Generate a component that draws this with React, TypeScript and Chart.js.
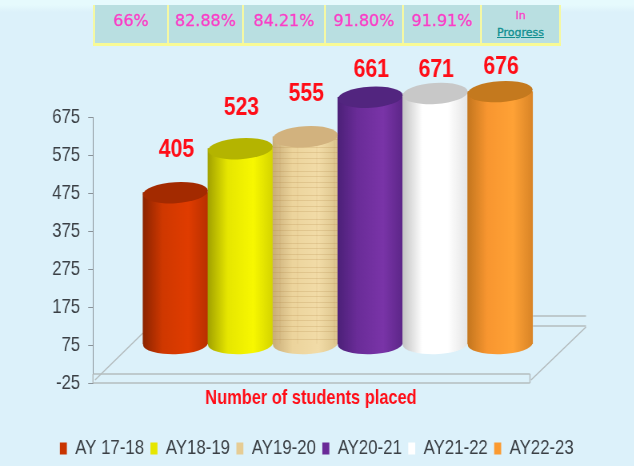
import React, { useEffect, useRef } from "react";
import { Chart, registerables } from "chart.js";

Chart.register(...registerables);

const categories = ["AY 17-18", "AY18-19", "AY19-20", "AY20-21", "AY21-22", "AY22-23"];
const placed = [405, 523, 555, 661, 671, 676];
const rates = ["66%", "82.88%", "84.21%", "91.80%", "91.91%"];
const rateWidths = [74, 75, 82, 78, 78, 79];
const legendColors = ["#c93400", "#e6e600", "#e6cc94", "#6a2a98", "#ffffff", "#fb9a30"];
const topColors = ["#a32a00", "#b4b400", "#d2b27e", "#52257f", "#c8c8c8", "#c4791e"];
const bodyStops = [
  ["#8c2400", "#cf3800", "#e03c00", "#b83000"],
  ["#a2a200", "#e6e600", "#f8f800", "#d4d400"],
  ["#c9ad78", "#ecd49c", "#f2dca8", "#dcc48c"],
  ["#4c2078", "#6a2c98", "#7a34a8", "#5c2688"],
  ["#c4c4c4", "#ffffff", "#ffffff", "#e4e4e4"],
  ["#c4761e", "#f89630", "#ffa236", "#d98426"],
];
const labelLift = [43, 41, 43, 28, 24, 25];
const WOOD = 2;
const SX = 0.8;
const X = (n: number) => n / SX;
const SHIFT_X = X(50);
const FONT = '"Liberation Sans", sans-serif';

function woodPattern(ctx: CanvasRenderingContext2D) {
  const c = document.createElement("canvas");
  c.width = 46;
  c.height = 24;
  const g = c.getContext("2d")!;
  g.strokeStyle = "rgba(170,125,60,0.2)";
  for (const y of [3, 8, 14, 19]) {
    g.beginPath();
    g.moveTo(0, y + 0.5);
    g.lineTo(46, y + 0.5);
    g.stroke();
  }
  g.strokeStyle = "rgba(170,125,60,0.12)";
  for (const x of [11, 33]) {
    g.beginPath();
    g.moveTo(x + 0.5, 0);
    g.lineTo(x + 0.5, 24);
    g.stroke();
  }
  return ctx.createPattern(c, "repeat")!;
}

function bodyGradient(ctx: CanvasRenderingContext2D, x: number, w: number, i: number) {
  const g = ctx.createLinearGradient(x - w / 2, 0, x + w / 2, 0);
  const s = bodyStops[i];
  g.addColorStop(0, s[0]);
  g.addColorStop(0.3, s[1]);
  g.addColorStop(0.7, s[2]);
  g.addColorStop(1, s[3]);
  return g;
}

const cylinderPlugin = {
  id: "cylinder",
  beforeDatasetsDraw(chart: any) {
    const ctx = chart.ctx as CanvasRenderingContext2D;
    ctx.save();
    ctx.strokeStyle = "#b4bcbe";
    ctx.lineWidth = 1.5;
    const lines = [
      [93, 374, 530, 374], [93, 383, 530, 383], [530, 374, 530, 383], [93, 374, 93, 383],
      [95, 380, 143, 333], [531, 380, 586, 327], [533, 326, 586, 326], [533, 316, 586, 316],
    ];
    for (const [a, b, c, d] of lines) {
      ctx.beginPath();
      ctx.moveTo(X(a), b);
      ctx.lineTo(X(c), d);
      ctx.stroke();
    }
    ctx.restore();
    ctx.save();
    ctx.translate(SHIFT_X, 0);
    chart.getDatasetMeta(0).data.forEach((bar: any, i: number) => {
      const { x, base, width } = bar.getProps(["x", "base", "width"], true);
      ctx.fillStyle = bodyGradient(ctx, x, width, i);
      ctx.beginPath();
      ctx.ellipse(x, base, width / 2, 10.5, -0.025, 0, Math.PI * 2);
      ctx.fill();
    });
  },
  afterDatasetsDraw(chart: any) {
    const ctx = chart.ctx as CanvasRenderingContext2D;
    chart.getDatasetMeta(0).data.forEach((bar: any, i: number) => {
      const { x, y, base, width } = bar.getProps(["x", "y", "base", "width"], true);
      if (i === WOOD) {
        ctx.fillStyle = woodPattern(ctx);
        ctx.fillRect(x - width / 2, y, width, base - y);
      }
      ctx.fillStyle = topColors[i];
      ctx.beginPath();
      ctx.ellipse(x, y, width / 2, 10.5, -0.05, 0, Math.PI * 2);
      ctx.fill();
      ctx.fillStyle = "#ff0d17";
      ctx.font = `bold 26.5px ${FONT}`;
      ctx.textAlign = "center";
      ctx.textBaseline = "middle";
      ctx.fillText(String(placed[i]), x + X(1), y - labelLift[i]);
    });
    ctx.restore();
    ctx.save();
    ctx.fillStyle = "#ff0d17";
    ctx.font = `bold 20.5px ${FONT}`;
    ctx.textAlign = "center";
    ctx.textBaseline = "middle";
    ctx.fillText("Number of students placed", X(311), 398);
    ctx.restore();
  },
};

export default function App() {
  const ref = useRef<HTMLCanvasElement>(null);
  useEffect(() => {
    const chart = new Chart(ref.current!, {
      type: "bar",
      data: {
        labels: categories,
        datasets: [
          {
            label: "Number of students placed",
            data: placed,
            yAxisID: "yBars",
            clip: false,
            categoryPercentage: 1,
            barPercentage: 1,
            borderWidth: 0,
            backgroundColor: (c: any) => {
              const x = c.chart.scales.x;
              const w = x.width / categories.length;
              return bodyGradient(c.chart.ctx, x.getPixelForValue(c.dataIndex), w, c.dataIndex);
            },
          },
        ],
      },
      options: {
        responsive: false,
        animation: false,
        layout: { padding: { top: 117, bottom: -3 } },
        plugins: {
          tooltip: { enabled: false },
          title: { display: false },
          legend: {
            position: "bottom",
            labels: {
              boxWidth: 8.75,
              boxHeight: 12,
              padding: 8,
              color: "#3a3f44",
              font: { family: FONT, size: 21, lineHeight: 1 },
              generateLabels: () =>
                categories.map((text, i) => ({
                  text,
                  fillStyle: legendColors[i],
                  strokeStyle: legendColors[i],
                  fontColor: "#3a3f44",
                  lineWidth: 0,
                  hidden: false,
                  datasetIndex: 0,
                })),
            },
          },
        },
        scales: {
          x: {
            grid: { display: false },
            border: { display: false },
            ticks: { display: false },
            afterFit: (s: any) => {
              s.height = 46.5;
            },
          },
          y: {
            position: "left",
            min: -25,
            max: 675,
            ticks: { stepSize: 100, color: "#3a3f44", padding: 10, font: { family: FONT, size: 21 } },
            grid: { drawOnChartArea: false, color: "#8a9298", tickLength: 6 },
            border: { color: "#8a9298" },
            afterFit: (s: any) => {
              s.width = X(93);
            },
          },
          yBars: {
            position: "right",
            min: -106.7,
            max: 608,
            grid: { display: false },
            border: { display: false },
            ticks: { display: false },
            afterFit: (s: any) => {
              s.width = X(151);
            },
          },
        },
      },
      plugins: [cylinderPlugin],
    } as any);
    return () => chart.destroy();
  }, []);

  const cell: React.CSSProperties = {
    background: "#b9dfe1",
    borderRight: "2px solid #f4f8a4",
    textAlign: "center",
    color: "#f93ec8",
    fontFamily: '"DejaVu Sans", sans-serif',
    fontSize: 16,
    padding: "0 0 8px 0",
    boxSizing: "border-box",
    WebkitTextStroke: "0.3px #f93ec8",
  };

  return (
    <div
      style={{
        position: "fixed",
        left: 0,
        top: 0,
        width: 634,
        height: 466,
        overflow: "hidden",
        filter: "blur(0.5px)",
        background: "linear-gradient(180deg,#e6fafd 0,#e6fafd 5px,#dcf1fa 12px,#dcf1fa 100%)",
      }}
    >
      <canvas
        ref={ref}
        width={X(634)}
        height={466}
        style={{
          position: "absolute",
          left: 0,
          top: 0,
          display: "block",
          transform: `scaleX(${SX})`,
          transformOrigin: "0 0",
        }}
      />
      <table
        style={{
          position: "absolute",
          left: 93,
          top: 5,
          width: 466,
          height: 41,
          borderCollapse: "collapse",
          tableLayout: "fixed",
          borderLeft: "2px solid #f4f8a4",
          borderBottom: "3px solid #f8fa94",
        }}
      >
        <colgroup>
          {rateWidths.map((w, i) => (
            <col key={i} style={{ width: w }} />
          ))}
        </colgroup>
        <tbody>
          <tr>
            {rates.map((r) => (
              <td key={r} style={cell}>
                {r}
              </td>
            ))}
            <td style={{ ...cell, padding: 0, fontSize: 11, lineHeight: "17px" }}>
              In
              <br />
              <span style={{ color: "#0f8f90", WebkitTextStroke: "0.3px #0f8f90", textDecoration: "underline" }}>Progress</span>
            </td>
          </tr>
        </tbody>
      </table>
    </div>
  );
}
